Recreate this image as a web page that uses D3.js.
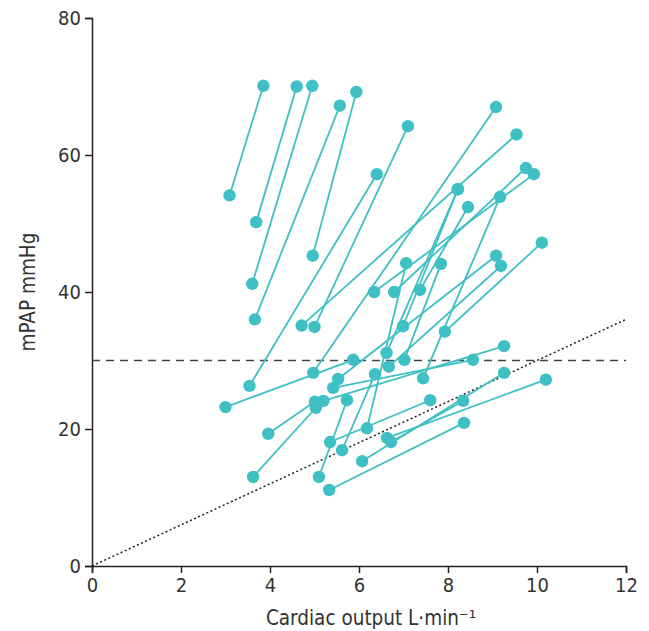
<!DOCTYPE html>
<html>
<head>
<meta charset="utf-8">
<script src="https://cdn.jsdelivr.net/npm/d3@7"></script>
<style>
  body { margin: 0; background: #fff; }
  text { font-family: "DejaVu Sans Condensed", "DejaVu Sans", sans-serif; font-stretch: condensed; fill: #333; }
</style>
</head>
<body>
<div id="chart"></div>
<script>
// rest -> exercise, one entry per patient
const restCO  = [3.09, 3.69, 3.60, 3.66, 4.96, 3.54, 4.71, 5.00, 4.97, 3.00, 7.44, 7.93, 7.37, 6.99, 6.62, 6.34,
                 6.79, 6.18, 7.02, 5.53, 6.67, 5.20, 5.42, 3.96, 3.62, 5.10, 5.33, 6.07, 6.63, 6.72, 5.35, 5.62];
const restPAP = [54.1, 50.2, 41.2, 36.0, 45.3, 26.3, 35.1, 34.9, 28.2, 23.2, 27.4, 34.2, 40.3, 35.0, 31.1, 40.0,
                 40.0, 20.1, 30.1, 27.3, 29.1, 24.1, 26.0, 19.3, 13.0, 13.0, 11.1, 15.3, 18.7, 18.1, 18.1, 16.9];
const exCO    = [3.85, 4.60, 4.95, 5.57, 5.94, 6.40, 9.54, 7.10, 9.08, 5.87, 9.17, 10.11, 8.45, 8.22, 8.22, 9.93,
                 9.75, 7.06, 7.84, 9.08, 9.19, 9.26, 8.56, 5.01, 5.03, 5.73, 8.36, 9.26, 10.20, 8.34, 7.60, 6.36];
const exPAP   = [70.1, 70.0, 70.1, 67.2, 69.2, 57.2, 63.0, 64.2, 67.0, 30.1, 53.9, 47.2, 52.4, 55.0, 55.0, 57.2,
                 58.1, 44.2, 44.1, 45.3, 43.8, 32.1, 30.1, 24.0, 23.1, 24.2, 20.9, 28.2, 27.2, 24.1, 24.2, 28.0];

const xTicks = [0, 2, 4, 6, 8, 10, 12];
const yTicks = [0, 20, 40, 60, 80];
const thresholdPAP = 30;      // dashed line
const slopeLine = [[0, 0], [12, 36]];  // dotted line

const width = 649, height = 631;
const margin = {top: 18, right: 23, bottom: 65, left: 92};
const font = '"DejaVu Sans Condensed", "DejaVu Sans", sans-serif';

const svg = d3.select('#chart')
    .append('svg')
    .attr('width', width)
    .attr('height', height);

const x = d3.scaleLinear().domain([0, 12]).range([margin.left, width - margin.right]);
const y = d3.scaleLinear().domain([0, 80]).range([height - margin.bottom, margin.top]);

const teal = '#3ec0c4';

// dashed reference
svg.append('line')
    .attr('x1', x(0)).attr('x2', x(12))
    .attr('y1', y(thresholdPAP)).attr('y2', y(thresholdPAP))
    .attr('stroke', '#444')
    .attr('stroke-width', 1.6)
    .attr('stroke-dasharray', '8,6');

// dotted line
svg.append('line')
    .attr('x1', x(slopeLine[0][0])).attr('y1', y(slopeLine[0][1]))
    .attr('x2', x(slopeLine[1][0])).attr('y2', y(slopeLine[1][1]))
    .attr('stroke', '#222')
    .attr('stroke-width', 1.5)
    .attr('stroke-dasharray', '2,2.5');

const idx = d3.range(restCO.length);

svg.append('g').selectAll('line')
    .data(idx)
    .join('line')
    .attr('x1', i => x(restCO[i])).attr('y1', i => y(restPAP[i]))
    .attr('x2', i => x(exCO[i])).attr('y2', i => y(exPAP[i]))
    .attr('stroke', teal)
    .attr('stroke-width', 1.8);

const pts = idx.flatMap(i => [[restCO[i], restPAP[i]], [exCO[i], exPAP[i]]]);
svg.append('g').selectAll('circle')
    .data(pts)
    .join('circle')
    .attr('cx', d => x(d[0]))
    .attr('cy', d => y(d[1]))
    .attr('r', 6.2)
    .attr('fill', teal);

// axes
const xAxis = svg.append('g')
    .attr('transform', `translate(0,${y(0)})`)
    .call(d3.axisBottom(x).tickValues(xTicks).tickSize(7).tickPadding(5));
const yAxis = svg.append('g')
    .attr('transform', `translate(${x(0)},0)`)
    .call(d3.axisLeft(y).tickValues(yTicks).tickSize(7).tickPadding(4));

[xAxis, yAxis].forEach(g => {
    g.select('.domain').attr('stroke', '#222').attr('stroke-width', 1.5);
    g.selectAll('.tick line').attr('stroke', '#222').attr('stroke-width', 1.5);
    g.selectAll('.tick text').style('font-size', '20px').attr('fill', '#333')
        .style('font-family', font);
});

svg.append('text')
    .attr('x', 371)
    .attr('y', 625)
    .attr('text-anchor', 'middle')
    .style('font-size', '20.5px')
    .text('Cardiac output L·min⁻¹');

svg.append('text')
    .attr('transform', `translate(35,${y(40)}) rotate(-90)`)
    .attr('text-anchor', 'middle')
    .style('font-size', '20.5px')
    .text('mPAP mmHg');
</script>
</body>
</html>
